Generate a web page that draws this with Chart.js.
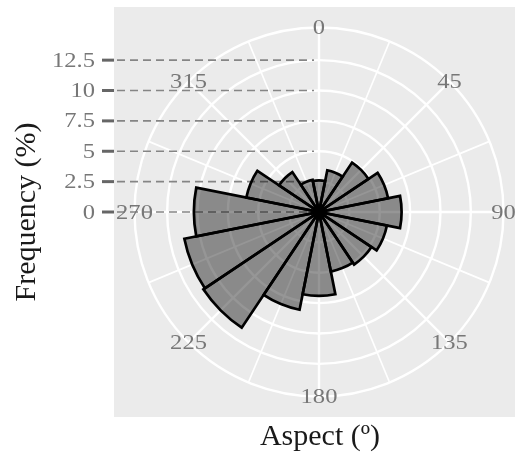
<!DOCTYPE html>
<html>
<head>
<meta charset="utf-8">
<script src="https://cdn.jsdelivr.net/npm/chart.js@4.4.1/dist/chart.umd.min.js"></script>
<style>
  body { margin: 0; background: #fff; }
</style>
</head>
<body>
<canvas id="chart" width="515" height="468"></canvas>
<script>
// Aspect classes (centre of each 22.5° bin) and frequency of each class (%)
const aspectBins = ['0', '22.5', '45', '67.5', '90', '112.5', '135', '157.5',
                    '180', '202.5', '225', '247.5', '270', '292.5', '315', '337.5'];
const frequency = [2.6, 3.5, 4.9, 5.8, 6.8, 5.7, 5.2, 5.0,
                   6.9, 8.2, 11.45, 11.3, 10.3, 6.1, 3.95, 2.7];
const freqTicks = [0, 2.5, 5, 7.5, 10, 12.5];
const aspectTicks = [0, 45, 90, 135, 180, 225, 270, 315];

const serif = "'Liberation Serif', 'Times New Roman', serif";

// tick text in the reference is a bit wider than plain Times
function wideText(ctx, txt, x, y) {
  ctx.save();
  ctx.translate(x, y);
  ctx.scale(1.17, 1);
  ctx.fillText(txt, 0, 0);
  ctx.restore();
}

// ggplot-like polar background: panel, circles, spokes, dashed guides and r axis
const ggPolar = {
  id: 'ggPolar',
  beforeDatasetsDraw(chart) {
    const ctx = chart.ctx;
    const r = chart.scales.r;
    const cx = r.xCenter, cy = r.yCenter;
    const outer = r.drawingArea * 1.125;
    const half = r.drawingArea * 1.25;
    const left = cx - half;
    ctx.save();
    ctx.fillStyle = '#ebebeb';
    ctx.fillRect(left, cy - half, half * 2, half * 2);

    ctx.strokeStyle = '#fff';
    for (let a = 0; a < 360; a += 22.5) {
      const rad = a * Math.PI / 180;
      ctx.lineWidth = a % 45 === 0 ? 2.4 : 1.7;
      ctx.beginPath();
      ctx.moveTo(cx, cy);
      ctx.lineTo(cx + outer * Math.sin(rad), cy - outer * Math.cos(rad));
      ctx.stroke();
    }
    ctx.lineWidth = 2.4;
    freqTicks.forEach(v => {
      const d = r.getDistanceFromCenterForValue(v);
      if (d > 0) {
        ctx.beginPath();
        ctx.arc(cx, cy, d, 0, Math.PI * 2);
        ctx.stroke();
      }
    });
    ctx.beginPath();
    ctx.arc(cx, cy, outer, 0, Math.PI * 2);
    ctx.stroke();

    // dashed guides + ticks + labels
    ctx.font = '21px ' + serif;
    ctx.textAlign = 'right';
    ctx.textBaseline = 'middle';
    freqTicks.forEach(v => {
      const y = cy - r.getDistanceFromCenterForValue(v);
      ctx.setLineDash([8, 5]);
      ctx.strokeStyle = '#858585';
      ctx.lineWidth = 1.6;
      ctx.beginPath();
      ctx.moveTo(left + 3, y);
      ctx.lineTo(cx - 5, y);
      ctx.stroke();
      ctx.setLineDash([]);
      ctx.strokeStyle = '#666';
      ctx.lineWidth = 3;
      ctx.beginPath();
      ctx.moveTo(left - 12, y);
      ctx.lineTo(left, y);
      ctx.stroke();
      ctx.fillStyle = '#777';
      wideText(ctx, String(v), left - 19, y + 1);
    });
    ctx.restore();
  },
  afterDatasetsDraw(chart) {
    const ctx = chart.ctx;
    const r = chart.scales.r;
    const cx = r.xCenter, cy = r.yCenter;
    const outer = r.drawingArea * 1.125;
    ctx.save();
    ctx.font = '21px ' + serif;
    ctx.fillStyle = '#777';
    ctx.textAlign = 'center';
    ctx.textBaseline = 'middle';
    aspectTicks.forEach(a => {
      const rad = a * Math.PI / 180;
      wideText(ctx, String(a), cx + outer * Math.sin(rad), cy - outer * Math.cos(rad) + 1);
    });
    ctx.fillStyle = '#1a1a1a';
    ctx.font = '30px ' + serif;
    ctx.fillText('Aspect (º)', cx + 1, 437);
    ctx.translate(27, cy);
    ctx.rotate(-Math.PI / 2);
    ctx.fillText('Frequency (%)', 0, 0);
    ctx.restore();
  }
};

const ctx = document.getElementById('chart').getContext('2d');
const roseChart = new Chart(ctx, {
  type: 'polarArea',
  data: {
    labels: aspectBins,
    datasets: [{
      data: frequency,
      backgroundColor: 'rgba(0, 0, 0, 0.41)',
      borderColor: '#000',
      borderWidth: 2.7,
      borderJoinStyle: 'miter'
    }]
  },
  options: {
    responsive: false,
    devicePixelRatio: 1,
    animation: false,
    layout: { padding: { left: 155, right: 32, top: 48, bottom: 92 } },
    scales: {
      r: {
        min: 0,
        max: 13.5,
        startAngle: -11.25,
        ticks: { display: false },
        grid: { display: false },
        angleLines: { display: false },
        pointLabels: { display: false }
      }
    },
    plugins: {
      legend: { display: false },
      tooltip: { enabled: false }
    }
  },
  plugins: [ggPolar]
});
</script>
</body>
</html>
